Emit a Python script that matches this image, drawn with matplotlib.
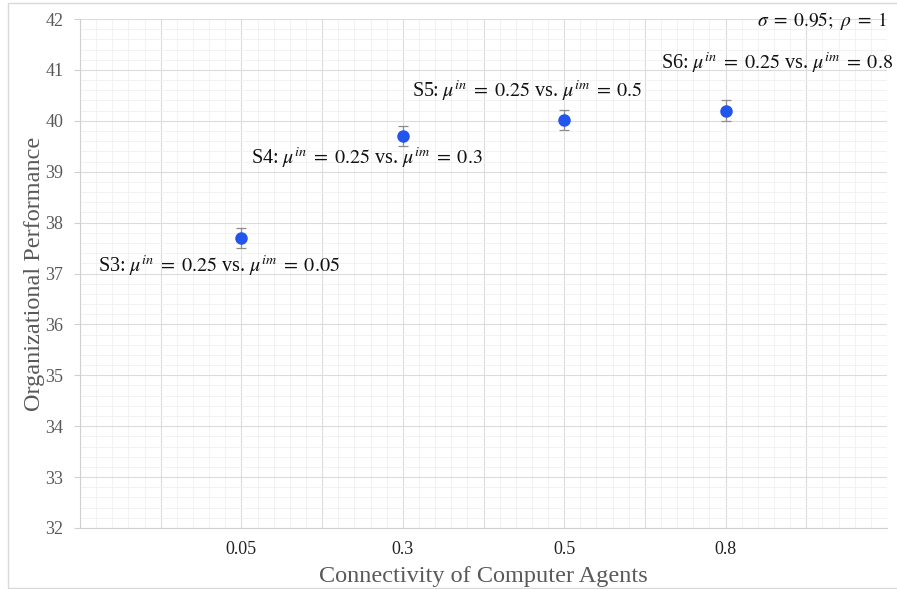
import matplotlib
matplotlib.use("Agg")
from matplotlib import pyplot as plt
from matplotlib.patches import Rectangle
from matplotlib.ticker import MultipleLocator, AutoMinorLocator

# connectivity levels (categorical) and mean performance with error
connectivity = ["0.05", "0.3", "0.5", "0.8"]
performance = [37.70, 39.70, 40.02, 40.20]
perf_err = [0.20, 0.20, 0.20, 0.21]

scenario_labels = [
    r"S3: $\mu^{in}\;=\;0.25$ vs. $\mu^{im}\;=\;0.05$",
    r"S4: $\mu^{in}\;=\;0.25$ vs. $\mu^{im}\;=\;0.3$",
    r"S5: $\mu^{in}\;=\;0.25$ vs. $\mu^{im}\;=\;0.5$",
    r"S6: $\mu^{in}\;=\;0.25$ vs. $\mu^{im}\;=\;0.8$",
]
label_pos = [(0.86, 37.15), (1.78, 39.27), (2.77, 40.59), (4.32, 41.14)]
param_text = r"$\sigma\;=\;0.95;\ \rho\;=\;1$"

plt.rcParams["font.family"] = ["Liberation Serif", "DejaVu Serif"]
plt.rcParams["mathtext.fontset"] = "stix"


def main():
    fig = plt.figure(figsize=(8.97, 5.89), dpi=100)
    ax = fig.add_axes([80 / 897, 61 / 589, 807 / 897, 509 / 589])

    xs = list(range(1, len(connectivity) + 1))
    ax.errorbar(xs, performance, yerr=perf_err, fmt="o", color="#2255ee",
                markersize=8, ecolor="#8c8c8c", elinewidth=0.9,
                capsize=3.5, capthick=0.9, zorder=5)

    ax.set_xlim(0, 5)
    ax.set_ylim(32, 42)
    # majors every half step so the grid also runs between categories
    ax.xaxis.set_major_locator(MultipleLocator(0.5))
    ax.xaxis.set_major_formatter(plt.FuncFormatter(
        lambda v, _: connectivity[int(round(v)) - 1]
        if abs(v - round(v)) < 1e-6 and 1 <= round(v) <= 4 else ""))
    ax.xaxis.set_minor_locator(AutoMinorLocator(5))
    ax.yaxis.set_major_locator(MultipleLocator(1))
    ax.yaxis.set_minor_locator(AutoMinorLocator(5))

    ax.grid(which="major", color="#dcdcdc", linewidth=0.8)
    ax.grid(which="minor", color="#f0f0f0", linewidth=0.6)
    ax.set_axisbelow(True)

    for side in ("top", "right"):
        ax.spines[side].set_visible(False)
    ax.spines["left"].set_color("#d0d0d0")
    ax.spines["bottom"].set_color("#d0d0d0")

    ax.tick_params(axis="x", which="both", length=0, pad=9,
                   labelsize=13, labelcolor="#222222")
    ax.tick_params(axis="y", which="major", length=4, color="#d0d0d0",
                   pad=8, labelsize=13, labelcolor="#595959")
    ax.tick_params(axis="y", which="minor", length=0)

    ax.set_xlabel("Connectivity of Computer Agents", fontsize=17.5,
                  color="#595959", labelpad=6)
    ax.set_ylabel("Organizational Performance", fontsize=17.5,
                  color="#595959", labelpad=0)

    for text, (tx, ty) in zip(scenario_labels, label_pos):
        ax.text(tx, ty, text, fontsize=14.5, ha="center", va="center",
                color="#111111")
    ax.text(5.0, 41.96, param_text, fontsize=14, ha="right", va="center",
            color="#111111")

    # thin frame around the whole figure
    fig.patches.append(Rectangle((8 / 897, 1 / 589), 0.995, 585 / 589,
                                 transform=fig.transFigure, fill=False,
                                 edgecolor="#d9d9d9", linewidth=1))

    fig.savefig("out.png", dpi=100)


if __name__ == "__main__":
    main()
